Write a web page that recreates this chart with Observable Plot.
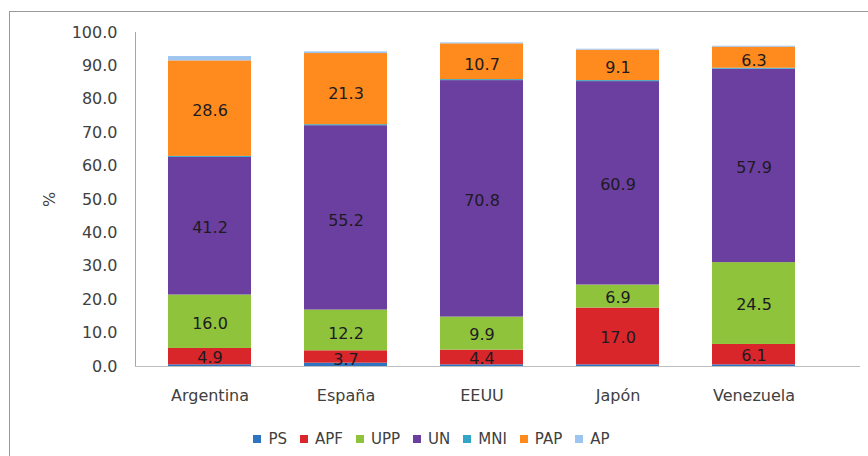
<!DOCTYPE html>
<html>
<head>
<meta charset="utf-8">
<script src="https://cdn.jsdelivr.net/npm/d3@7"></script>
<script src="https://cdn.jsdelivr.net/npm/@observablehq/plot@0.6"></script>
<style>
  html, body { margin: 0; padding: 0; background: #fff; overflow: hidden; }
  #wrap { position: relative; width: 868px; height: 456px; font-family: "DejaVu Sans", sans-serif; }
  #border { position: absolute; left: 9px; top: 11px; width: 900px; height: 500px; border: 1px solid #9a9a9a; box-sizing: border-box; pointer-events: none; }
  #chart { position: absolute; left: 0; top: 0; }
  #legend { position: absolute; left: 0; top: 430px; width: 868px; display: flex; justify-content: center; font-size: 15px; color: #404040; padding-left: 8px; box-sizing: border-box; }
  #legend .item { display: flex; align-items: center; margin-right: 13px; }
  #legend .sw { width: 8px; height: 8px; margin-right: 7px; }
</style>
</head>
<body>
<div id="wrap">
  <div id="chart"></div>
  <div id="legend"></div>
  <div id="border"></div>
</div>
<script>
const countries = ["Argentina", "España", "EEUU", "Japón", "Venezuela"];
const series = ["PS", "APF", "UPP", "UN", "MNI", "PAP", "AP"];
const PS  = [0.5, 1.0, 0.5, 0.5, 0.5];
const APF = [4.9, 3.7, 4.4, 17.0, 6.1];
const UPP = [16.0, 12.2, 9.9, 6.9, 24.5];
const UN  = [41.2, 55.2, 70.8, 60.9, 57.9];
const MNI = [0.3, 0.3, 0.3, 0.3, 0.3];
const PAP = [28.6, 21.3, 10.7, 9.1, 6.3];
const AP  = [1.3, 0.5, 0.3, 0.3, 0.3];
const labelled = ["APF", "UPP", "UN", "PAP"];
const colors = ["#2f74c0", "#d8262b", "#8fc33b", "#6b3fa0", "#33a6c8", "#ff8a1e", "#9ec5f0"];
const yTicks = [0, 10, 20, 30, 40, 50, 60, 70, 80, 90, 100];

const valuesBySeries = {PS, APF, UPP, UN, MNI, PAP, AP};
const data = [];
series.forEach(s => countries.forEach((c, i) => data.push({country: c, series: s, value: valuesBySeries[s][i]})));

const stackOpts = {x: "country", y: "value", z: "series", order: series};

const chart = Plot.plot({
  width: 868,
  height: 420,
  marginLeft: 135,
  marginRight: 8,
  marginTop: 32,
  marginBottom: 54,
  style: {fontFamily: "DejaVu Sans, sans-serif", fontSize: "16px", color: "#404040"},
  x: {domain: countries, range: [140, 823], paddingInner: 0.39, paddingOuter: 0.197, label: null},
  y: {domain: [0, 100], label: null},
  color: {domain: series, range: colors},
  marks: [
    Plot.barY(data, Plot.stackY({...stackOpts, fill: "series"})),
    Plot.text(data.filter(d => labelled.includes(d.series)), Plot.stackY({...stackOpts, text: d => d.value.toFixed(1), fill: "#1e1a22", fontSize: 16})),
    Plot.axisY({ticks: yTicks, tickFormat: d3.format(".1f"), tickSize: 0, tickPadding: 18, label: "%", labelArrow: "none", labelAnchor: "center", labelOffset: 92, fontSize: 16}),
    Plot.axisX({tickSize: 0, tickPadding: 23, label: null, fontSize: 16}),
    Plot.frame({anchor: "left", stroke: "#a6a6a6"}),
    Plot.ruleY([0], {stroke: "#bdbdbd"})
  ]
});
document.getElementById("chart").appendChild(chart);

const legend = document.getElementById("legend");
series.forEach((s, i) => {
  const item = document.createElement("div");
  item.className = "item";
  const sw = document.createElement("span");
  sw.className = "sw";
  sw.style.background = colors[i];
  const t = document.createElement("span");
  t.textContent = s;
  item.appendChild(sw);
  item.appendChild(t);
  legend.appendChild(item);
});
</script>
</body>
</html>
